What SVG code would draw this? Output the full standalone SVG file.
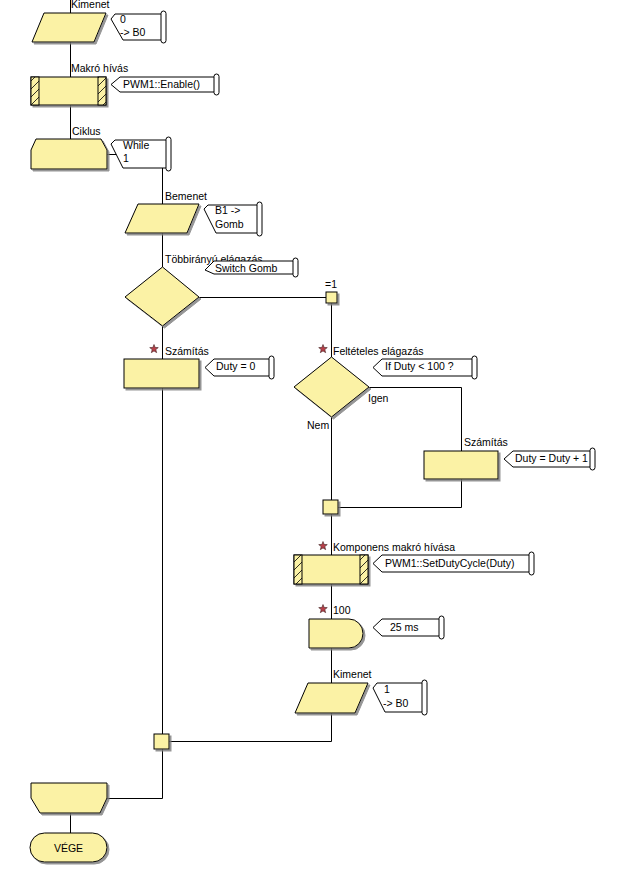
<svg xmlns="http://www.w3.org/2000/svg" width="639" height="879" viewBox="0 0 639 879">
<style>
  .n{fill:#FBF2A5;stroke:#000;stroke-width:1;filter:url(#sh)}
  .h{fill:url(#hatch);stroke:#000;stroke-width:1}
  .c{fill:#fff;stroke:#000;stroke-width:1}
  .w{stroke:#000;stroke-width:1;fill:none}
  text{font-family:"Liberation Sans",Arial,sans-serif;font-size:10.5px;fill:#000}
  .star{fill:#b8404a;stroke:#402020;stroke-width:0.6}
</style>
<defs>
  <filter id="sh" x="-10%" y="-10%" width="130%" height="140%">
    <feDropShadow dx="2" dy="2" stdDeviation="0.6" flood-color="#7a7a7a" flood-opacity="0.8"/>
  </filter>
  <pattern id="hatch" patternUnits="userSpaceOnUse" width="8" height="8">
    <rect width="8" height="8" fill="#FBF2A5"/>
    <path d="M0,8 L8,0 M-2,2 L2,-2 M6,10 L10,6" stroke="#000" stroke-width="0.8"/>
  </pattern>
  <path id="st" d="M0,-4.5 L1.12,-1.54 L4.28,-1.39 L1.81,0.59 L2.65,3.64 L0,1.9 L-2.65,3.64 L-1.81,0.59 L-4.28,-1.39 L-1.12,-1.54 Z"/>
</defs>
<rect width="639" height="879" fill="#fff"/>

<g id="connectors" class="w">
  <path d="M70.5,0 V14"/>
  <path d="M70.5,42 V77"/>
  <path d="M70.5,105 V139"/>
  <path d="M107,154.5 H162.5 V205"/>
  <path d="M162.5,233 V267"/>
  <path d="M162.5,326 V359"/>
  <path d="M162.5,388 V734"/>
  <path d="M199,297.5 H326"/>
  <path d="M331.5,303 V357"/>
  <path d="M331.5,417 V500"/>
  <path d="M369,387.5 H461.5 V451"/>
  <path d="M461.5,479 V507.5 H338"/>
  <path d="M331.5,514 V555"/>
  <path d="M331.5,584 V619"/>
  <path d="M331.5,648 V683"/>
  <path d="M331.5,713 V741.5 H169"/>
  <path d="M162.5,749 V798.5 H107"/>
  <path d="M70.5,813 V833"/>
</g>

<g id="out1">
  <text x="71" y="8">Kimenet</text>
  <polygon class="n" points="44,13 106,13 94,42 32,42"/>
  <path class="c" d="M115,14 H163 V40 H123 L111,19 Z"/>
  <rect class="c" x="161" y="11" width="5" height="32" rx="2.5"/>
  <text x="120" y="23">0</text>
  <text x="120" y="36">-&gt; B0</text>
</g>

<g id="macro1">
  <text x="71" y="72">Makró hívás</text>
  <rect class="n" x="31" y="77" width="75" height="28"/>
  <rect class="h" x="31" y="77" width="8" height="28"/>
  <rect class="h" x="98" y="77" width="8" height="28"/>
  <path class="c" d="M120,77 H216 V92 H120 L111,84.5 Z"/>
  <rect class="c" x="214" y="74" width="5" height="21" rx="2.5"/>
  <text x="123" y="88">PWM1::Enable()</text>
</g>

<g id="loopstart">
  <text x="72" y="135">Ciklus</text>
  <polygon class="n" points="36,139 101,139 107,150 107,169 31,169 31,150"/>
  <path class="c" d="M115,140 H168 V168 H123 L111,144 Z"/>
  <rect class="c" x="166" y="137" width="5" height="34" rx="2.5"/>
  <text x="123" y="149">While</text>
  <text x="123" y="162">1</text>
</g>

<g id="input1">
  <text x="165" y="200">Bemenet</text>
  <polygon class="n" points="138,204 199,204 187,233 125,233"/>
  <path class="c" d="M208,205 H259 V233 H216 L204,209 Z"/>
  <rect class="c" x="257" y="202" width="5" height="34" rx="2.5"/>
  <text x="215" y="214">B1 -&gt;</text>
  <text x="215" y="228">Gomb</text>
</g>

<g id="switch">
  <text x="165" y="263">Többirányú elágazás</text>
  <polygon class="n" points="162.5,267 199,297 162.5,326 125,297"/>
  <path class="c" d="M214,261 H295 V274 H214 L205,270 Z"/>
  <rect class="c" x="293" y="258" width="5" height="19" rx="2.5"/>
  <text x="215" y="272">Switch Gomb</text>
</g>

<g id="case1">
  <text x="325" y="288">=1</text>
  <rect class="n" x="326" y="292" width="11" height="11"/>
</g>

<g id="calc1">
  <use href="#st" class="star" x="154" y="349"/>
  <text x="165" y="355">Számítás</text>
  <rect class="n" x="124" y="359" width="75" height="29"/>
  <path class="c" d="M214,359 H271 V376 H214 L205,367.5 Z"/>
  <rect class="c" x="269" y="356" width="5" height="23" rx="2.5"/>
  <text x="216" y="370">Duty = 0</text>
</g>

<g id="decision">
  <use href="#st" class="star" x="323" y="349"/>
  <text x="333" y="355">Feltételes elágazás</text>
  <polygon class="n" points="331.5,357 369,387 331.5,417 294,387"/>
  <path class="c" d="M382,359 H474 V376 H382 L373,367.5 Z"/>
  <rect class="c" x="472" y="356" width="5" height="23" rx="2.5"/>
  <text x="385" y="370">If  Duty &lt; 100 ?</text>
  <text x="368" y="402">Igen</text>
  <text x="307" y="429">Nem</text>
</g>

<g id="calc2">
  <text x="464" y="446">Számítás</text>
  <rect class="n" x="424" y="451" width="74" height="28"/>
  <path class="c" d="M513,451 H592 V467 H513 L504,459 Z"/>
  <rect class="c" x="590" y="448" width="5" height="22" rx="2.5"/>
  <text x="515" y="462">Duty = Duty + 1</text>
</g>

<g id="merge1">
  <rect class="n" x="323" y="500" width="15" height="14"/>
</g>

<g id="macro2">
  <use href="#st" class="star" x="323" y="546"/>
  <text x="333" y="551">Komponens makró hívása</text>
  <rect class="n" x="294" y="555" width="74" height="29"/>
  <rect class="h" x="294" y="555" width="8" height="29"/>
  <rect class="h" x="360" y="555" width="8" height="29"/>
  <path class="c" d="M382,555 H531 V572 H382 L373,563.5 Z"/>
  <rect class="c" x="529" y="552" width="5" height="23" rx="2.5"/>
  <text x="385" y="567">PWM1::SetDutyCycle(Duty)</text>
</g>

<g id="delay">
  <use href="#st" class="star" x="323" y="609"/>
  <text x="333" y="614">100</text>
  <path class="n" d="M309,619 H349 A14,14.5 0 0 1 349,648 H309 Z"/>
  <path class="c" d="M382,619 H441 V636 H382 L373,627.5 Z"/>
  <rect class="c" x="439" y="616" width="5" height="23" rx="2.5"/>
  <text x="390" y="631">25 ms</text>
</g>

<g id="out2">
  <text x="333" y="678">Kimenet</text>
  <polygon class="n" points="308,683 368,683 355,713 295,713"/>
  <path class="c" d="M377,683 H424 V712 H385 L373,688 Z"/>
  <rect class="c" x="422" y="680" width="5" height="35" rx="2.5"/>
  <text x="384" y="693">1</text>
  <text x="383" y="707">-&gt; B0</text>
</g>

<g id="merge2">
  <rect class="n" x="154" y="734" width="15" height="15"/>
</g>

<g id="loopend">
  <polygon class="n" points="31,783 107,783 107,798 100,813 40,813 31,798"/>
</g>

<g id="end">
  <rect class="n" x="30" y="833" width="77" height="29" rx="14.5"/>
  <text x="68.5" y="852" text-anchor="middle">VÉGE</text>
</g>
</svg>
